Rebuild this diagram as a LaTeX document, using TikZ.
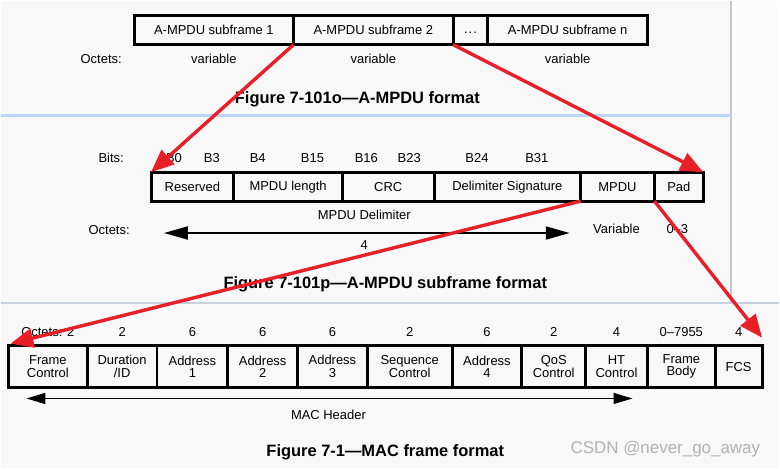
\documentclass[tikz,border=0pt]{standalone}
\usepackage{fontspec}
\setmainfont{Liberation Sans}
\usetikzlibrary{arrows.meta}

\definecolor{annored}{RGB}{234,30,38}
\definecolor{pagebg}{RGB}{248,248,248}
\definecolor{sepblue}{RGB}{190,214,245}
\definecolor{sepgrey}{RGB}{200,208,222}

\begin{document}
\begin{tikzpicture}[x=1pt,y=-1pt,
    fld/.style={draw,line width=3pt,inner sep=0pt,outer sep=0pt,align=center,
        font=\fontsize{13}{12.5}\selectfont},
    txt/.style={inner sep=0pt,font=\fontsize{13}{13}\selectfont},
    caption/.style={inner sep=0pt,font=\bfseries\fontsize{16.5}{16.5}\selectfont},
    redarrow/.style={draw=annored,line width=3.4pt,-{Triangle[length=23pt,width=19pt]}},
    dimarrow/.style={line width=2pt,{Triangle[length=24pt,width=13pt]}-{Triangle[length=24pt,width=13pt]}},
    macarrow/.style={line width=1.2pt,{Triangle[length=19pt,width=11pt]}-{Triangle[length=19pt,width=11pt]}}]

    % page background of the three screenshots
    \fill[pagebg] (0,0) rectangle (780,469);
    \fill[white!60!pagebg] (733,0) rectangle (780,303);
    \draw[gray!45,line width=1.5pt] (732,0) -- (732,303);
    \draw[sepblue,line width=3pt] (0,115.5) -- (732,115.5);
    \draw[sepgrey,line width=2pt] (0,303.5) -- (780,303.5);

    % A-MPDU format
    \node[fld,minimum width=160pt,minimum height=29pt] (sf1) at (213,29.5) {A-MPDU subframe 1};
    \node[fld,minimum width=160pt,minimum height=29pt] (sf2) at (373,29.5) {A-MPDU subframe 2};
    \node[fld,minimum width=35pt,minimum height=29pt] (sfdots) at (470.5,29.5) {\vphantom{Ag}.\kern1pt.\kern1pt.};
    \node[fld,minimum width=160pt,minimum height=29pt] (sfn) at (568,29.5) {A-MPDU subframe n};

    \node[txt] (oct1) at (100,58) {Octets:};
    \node[txt] at (213,58) {variable};
    \node[txt] at (373,58) {variable};
    \node[txt] at (568,58) {variable};
    \node[caption] (cap1) at (357,99) {Figure 7-101o---A-MPDU format};

    % A-MPDU subframe format
    \node[txt] (bits) at (110,158) {Bits:};
    \node[txt] at (173,158) {B0};
    \node[txt] at (211,158) {B3};
    \node[txt] at (257,158) {B4};
    \node[txt] at (312,158) {B15};
    \node[txt] at (366,158) {B16};
    \node[txt] at (409,158) {B23};
    \node[txt] at (477,158) {B24};
    \node[txt] at (537,158) {B31};

    \node[fld,minimum width=83pt,minimum height=29pt] (rsv) at (191.5,186.5) {Reserved};
    \node[fld,minimum width=109pt,minimum height=29pt] (len) at (287.5,186.5) {MPDU length};
    \node[fld,minimum width=92pt,minimum height=29pt] (crc) at (388,186.5) {CRC};
    \node[fld,minimum width=147pt,minimum height=29pt] (sig) at (507.5,186.5) {Delimiter Signature};
    \node[fld,minimum width=74pt,minimum height=29pt] (mpdu) at (618,186.5) {MPDU};
    \node[fld,minimum width=49pt,minimum height=29pt] (pad) at (679.5,186.5) {Pad};

    \node[txt] (delim) at (364,215) {MPDU Delimiter};
    \node[txt] (oct2) at (108,230) {Octets:};
    \coordinate (dl) at (163,233);
    \coordinate (dr) at (570,233);
    \draw[dimarrow] (dl) -- (dr);
    \node[txt] at (364,245) {4};
    \node[txt] at (617,229) {Variable};
    \node[txt] at (678,229) {0--3};
    \node[caption] (cap2) at (385,284) {Figure 7-101p---A-MPDU subframe format};

    % MAC frame format
    \node[txt] at (46.5,332) {Octets: 2};
    \node[txt] at (121,332) {2};
    \node[txt] at (191.5,332) {6};
    \node[txt] at (262,332) {6};
    \node[txt] at (332,332) {6};
    \node[txt] at (409.5,332) {2};
    \node[txt] at (487,332) {6};
    \node[txt] at (554,332) {2};
    \node[txt] at (617,332) {4};
    \node[txt] at (682,332) {0--7955};
    \node[txt] at (739.5,332) {4};

    \node[fld,minimum width=79pt,minimum height=42pt] (fc) at (46.5,367) {Frame\\Control};
    \node[fld,minimum width=70pt,minimum height=42pt] (dur) at (121,367) {Duration\\/ID};
    \node[fld,minimum width=71pt,minimum height=42pt] (addr1) at (191.5,367) {Address\\1};
    \node[fld,minimum width=70pt,minimum height=42pt] (addr2) at (262,367) {Address\\2};
    \node[fld,minimum width=70pt,minimum height=42pt] (addr3) at (332,367) {Address\\3};
    \node[fld,minimum width=85pt,minimum height=42pt] (seq) at (409.5,367) {Sequence\\Control};
    \node[fld,minimum width=70pt,minimum height=42pt] (addr4) at (487,367) {Address\\4};
    \node[fld,minimum width=64pt,minimum height=42pt] (qos) at (554,367) {QoS\\Control};
    \node[fld,minimum width=62pt,minimum height=42pt] (htc) at (617,367) {HT\\Control};
    \node[fld,minimum width=68pt,minimum height=42pt] (body) at (682,367) {Frame\\Body};
    \node[fld,minimum width=47pt,minimum height=42pt] (fcs) at (739.5,367) {FCS};

    \coordinate (ml) at (25,399);
    \coordinate (mr) at (633,399);
    \draw[macarrow] (ml) -- (mr);
    \node[txt] (machdr) at (328,415) {MAC Header};
    \node[caption] (cap3) at (385,453) {Figure 7-1---MAC frame format};
    \node[inner sep=0pt,text=gray!60,font=\fontsize{17}{17}\selectfont] (mark) at (666,450) {CSDN @never\_go\_away};

    % red annotation arrows
    \draw[redarrow] (sf1.south east) -- (rsv.north west);
    \draw[redarrow] (sf2.south east) -- (pad.north east);
    \draw[redarrow] (mpdu.south west) -- ([shift={(2,-2)}]fc.north west);
    \draw[redarrow] (pad.south west) -- ([shift={(0,-8)}]fcs.north east);

    \useasboundingbox (0,0) rectangle (780,469);
\end{tikzpicture}
\end{document}
